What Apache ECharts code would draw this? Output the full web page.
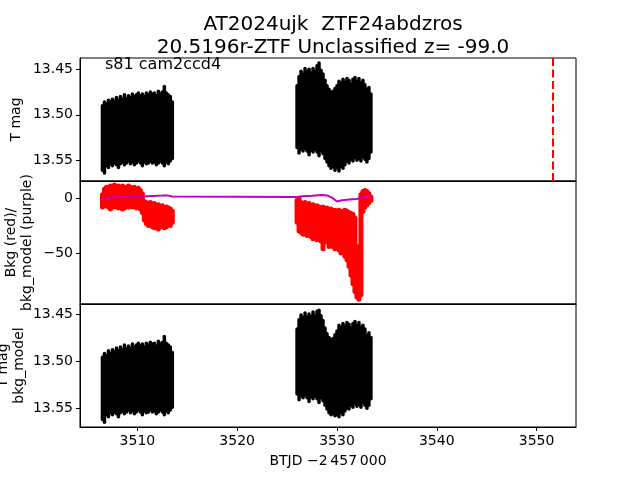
<!DOCTYPE html>
<html>
<head>
<meta charset="utf-8">
<script src="https://cdn.jsdelivr.net/npm/echarts@6/dist/echarts.min.js"></script>
<style>html,body{margin:0;padding:0;background:#fff}#c{width:640px;height:480px}</style>
</head>
<body>
<div id="c"></div>
<script>
// ---- data ----
const xTicks = [3510, 3520, 3530, 3540, 3550];
const magTicks = [13.45, 13.50, 13.55];
const bkgTicks = [0, -50];
const vlineX = 3551.6;

// time samples of the two observing blocks (BTJD - 2457000)
const tA = [3506.5,3506.7,3506.9,3507.1,3507.3,3507.5,3507.7,3507.9,3508.1,3508.3,3508.5,3508.7,3508.9,3509.1,3509.3,3509.5,3509.7,3509.9,3510.1,3510.3,3510.5,3510.7,3510.9,3511.1,3511.3,3511.5,3511.7,3511.9,3512.1,3512.3,3512.5,3512.7,3512.9,3513.1,3513.3,3513.5];
const tB = [3526.0,3526.2,3526.4,3526.6,3526.8,3527.0,3527.2,3527.4,3527.6,3527.8,3528.0,3528.2,3528.4,3528.6,3528.8,3529.0,3529.2,3529.4,3529.6,3529.8,3530.0,3530.2,3530.4,3530.6,3530.8,3531.0,3531.2,3531.4,3531.6,3531.8,3532.0,3532.2,3532.4,3532.6,3532.8,3533.0,3533.2,3533.4];

// top panel: T mag envelope (bright edge / faint edge)
const magA_hi = [13.490,13.486,13.488,13.484,13.486,13.483,13.485,13.481,13.484,13.480,13.483,13.478,13.482,13.479,13.481,13.477,13.480,13.478,13.476,13.479,13.477,13.480,13.476,13.478,13.475,13.477,13.476,13.479,13.474,13.477,13.475,13.469,13.476,13.478,13.480,13.486];
const magA_lo = [13.561,13.564,13.556,13.558,13.554,13.556,13.553,13.555,13.558,13.554,13.552,13.555,13.553,13.551,13.554,13.552,13.555,13.553,13.551,13.553,13.556,13.552,13.554,13.553,13.551,13.553,13.552,13.555,13.553,13.551,13.553,13.556,13.552,13.554,13.551,13.548];
const magB_hi = [13.468,13.458,13.452,13.455,13.449,13.453,13.450,13.454,13.449,13.452,13.446,13.443,13.451,13.455,13.462,13.468,13.472,13.475,13.474,13.471,13.468,13.463,13.465,13.461,13.464,13.460,13.462,13.466,13.461,13.459,13.463,13.460,13.465,13.462,13.467,13.472,13.470,13.477];
const magB_lo = [13.536,13.542,13.538,13.540,13.537,13.540,13.544,13.539,13.541,13.538,13.541,13.545,13.540,13.543,13.548,13.552,13.556,13.559,13.557,13.561,13.558,13.562,13.557,13.559,13.555,13.551,13.553,13.549,13.551,13.547,13.550,13.548,13.551,13.546,13.549,13.552,13.548,13.541];

// middle panel: background (red) envelope
const bkgA_hi = [3,8,10,9,11,10,12,10,11,9,11,10,9,11,10,9,10,8,9,7,4,-3,-4,-5,-4,-6,-5,-7,-6,-8,-7,-9,-8,-9,-10,-12];
const bkgA_lo = [-8,-7,-6,-8,-10,-7,-8,-6,-9,-8,-10,-9,-7,-8,-6,-8,-7,-9,-8,-10,-13,-20,-23,-25,-24,-26,-27,-25,-28,-26,-25,-27,-26,-24,-25,-22];
const bkgB_hi = [-2,0,-4,-5,-4,-6,-5,-7,-6,-8,-7,-8,-9,-8,-10,-9,-11,-10,-12,-11,-12,-11,-13,-12,-11,-12,-13,-14,-15,-18,-46,-44,3,6,7,6,4,1];
const bkgB_lo = [-22,-30,-31,-33,-32,-34,-33,-35,-37,-36,-38,-37,-39,-46,-40,-38,-44,-41,-44,-46,-43,-47,-50,-48,-53,-56,-62,-70,-78,-85,-90,-92,-88,-12,-8,-6,-4,-2];

// middle panel: background model (purple)
const modelT = [3506.5,3507.5,3508.5,3509.5,3510.5,3511.5,3512.5,3513.0,3513.5,3526.0,3526.5,3527.5,3528.5,3529.0,3529.5,3530.0,3530.5,3531.0,3531.5,3532.0,3532.5,3533.0,3533.4];
const modelV = [0,0.5,1.0,1.3,1.5,2.0,2.3,2.5,1.5,1.0,1.8,2.2,2.8,2.5,0.5,-3.0,-2.0,-1.5,-1.0,-0.8,0.5,1.5,3.0];

// bottom panel: T mag - bkg_model envelope
const corA_hi = [13.496,13.492,13.494,13.489,13.492,13.488,13.490,13.486,13.489,13.485,13.488,13.483,13.487,13.484,13.486,13.482,13.485,13.483,13.481,13.484,13.482,13.485,13.481,13.483,13.480,13.482,13.481,13.484,13.479,13.482,13.480,13.474,13.481,13.483,13.485,13.491];
const corA_lo = [13.562,13.565,13.557,13.559,13.555,13.557,13.554,13.556,13.559,13.555,13.553,13.556,13.554,13.552,13.555,13.553,13.556,13.554,13.552,13.554,13.557,13.553,13.555,13.554,13.552,13.554,13.553,13.556,13.554,13.552,13.554,13.557,13.553,13.555,13.552,13.549];
const corB_hi = [13.466,13.456,13.451,13.454,13.449,13.453,13.450,13.453,13.448,13.452,13.447,13.446,13.452,13.457,13.465,13.471,13.475,13.477,13.476,13.472,13.468,13.462,13.464,13.460,13.463,13.459,13.461,13.465,13.460,13.458,13.462,13.459,13.464,13.462,13.466,13.473,13.470,13.475];
const corB_lo = [13.535,13.541,13.537,13.539,13.536,13.539,13.543,13.538,13.540,13.537,13.540,13.544,13.539,13.542,13.547,13.551,13.555,13.557,13.556,13.558,13.557,13.559,13.555,13.557,13.553,13.550,13.551,13.547,13.549,13.545,13.548,13.546,13.549,13.544,13.547,13.550,13.547,13.540];

// ---- chart ----
const FONT = 'DejaVu Sans';
function zip(t, lo, hi) { return t.map((x, i) => [x, lo[i], hi[i]]); }
function bandRender(width, color) {
  return function (params, api) {
    const p1 = api.coord([api.value(0), api.value(1)]);
    const p2 = api.coord([api.value(0), api.value(2)]);
    return { type: 'line', shape: { x1: p1[0], y1: p1[1], x2: p2[0], y2: p2[1] },
      style: { stroke: color, lineWidth: width, lineCap: 'round' } };
  };
}
function band(idx, data, width, color) {
  return { type: 'custom', xAxisIndex: idx, yAxisIndex: idx, data: data,
    renderItem: bandRender(width, color), encode: { x: 0, y: [1, 2] }, silent: true };
}
const minus = v => (v < 0 ? '\u2212' + Math.abs(v) : String(v));
function xAx(idx, labels) {
  return { type: 'value', gridIndex: idx, min: 3504.25, max: 3553.95,
    axisLine: { show: true, onZero: false, lineStyle: { color: '#000', width: 1 } },
    splitLine: { show: false },
    axisTick: { show: labels, length: 4, lineStyle: { color: '#000' }, customValues: xTicks },
    axisLabel: { show: labels, customValues: xTicks, formatter: v => String(v), color: '#000', fontFamily: FONT, fontSize: 14, margin: 7 },
    name: labels ? 'BTJD \u22122\u2009457\u2009000' : '', nameLocation: 'middle', nameGap: 27, nameMoveOverlap: false,
    nameTextStyle: { color: '#000', fontFamily: FONT, fontSize: 14 } };
}
function yAx(idx, min, max, inverse, ticks, fmt, name, gap) {
  return { type: 'value', gridIndex: idx, min: min, max: max, inverse: inverse,
    axisLine: { show: true, onZero: false, lineStyle: { color: '#000', width: 1 } },
    splitLine: { show: false },
    axisTick: { show: true, length: 4, lineStyle: { color: '#000' }, customValues: ticks },
    axisLabel: { customValues: ticks, formatter: fmt, color: '#000', fontFamily: FONT, fontSize: 14, margin: 7 },
    name: name, nameLocation: 'middle', nameRotate: 90, nameGap: gap, nameMoveOverlap: false,
    nameTextStyle: { color: '#000', fontFamily: FONT, fontSize: 14, lineHeight: 16 } };
}
const gridBase = { left: 80, width: 496, height: 123, show: true, borderColor: '#000', borderWidth: 1,
  backgroundColor: 'transparent', containLabel: false, outerBoundsMode: 'none' };

const option = {
  animation: false,
  backgroundColor: '#fff',
  title: { text: 'AT2024ujk  ZTF24abdzros\n20.5196r-ZTF Unclassified z= -99.0', left: 328, top: 8, textAlign: 'center',
    textStyle: { fontFamily: FONT, fontWeight: 'normal', fontSize: 20, color: '#000', lineHeight: 23 } },
  grid: [ Object.assign({ top: 58 }, gridBase), Object.assign({ top: 181 }, gridBase), Object.assign({ top: 304 }, gridBase) ],
  xAxis: [ xAx(0, false), xAx(1, false), xAx(2, true) ],
  yAxis: [
    yAx(0, 13.4375, 13.5729, true, magTicks, v => v.toFixed(2), 'T mag', 56),
    yAx(1, -96.4, 15.6, false, bkgTicks, minus, 'Bkg (red)/\nbkg_model (purple)', 45),
    yAx(2, 13.4394, 13.570, true, magTicks, v => v.toFixed(2), 'T mag\nbkg_model', 53)
  ],
  graphic: [{ type: 'text', left: 105, top: 57, style: { text: 's81 cam2ccd4', font: '16px "DejaVu Sans"', fill: '#000' } }],
  series: [
    band(0, zip(tA, magA_lo, magA_hi), 3.5, '#000'),
    band(0, zip(tB, magB_lo, magB_hi), 3.5, '#000'),
    { type: 'line', xAxisIndex: 0, yAxisIndex: 0, data: [], silent: true,
      markLine: { symbol: 'none', silent: true, label: { show: false },
        lineStyle: { color: '#ff0000', width: 2, type: [8, 3.5] }, data: [{ xAxis: vlineX }] } },
    band(1, zip(tA, bkgA_lo, bkgA_hi), 5, '#ff0000'),
    band(1, zip(tB, bkgB_lo, bkgB_hi), 5, '#ff0000'),
    { type: 'line', xAxisIndex: 1, yAxisIndex: 1, data: modelT.map((x, i) => [x, modelV[i]]),
      showSymbol: false, lineStyle: { color: '#bf00bf', width: 2 }, silent: true },
    band(2, zip(tA, corA_lo, corA_hi), 3.5, '#000'),
    band(2, zip(tB, corB_lo, corB_hi), 3.5, '#000')
  ]
};
echarts.init(document.getElementById('c'), null, { renderer: 'canvas' }).setOption(option);
</script>
</body>
</html>
